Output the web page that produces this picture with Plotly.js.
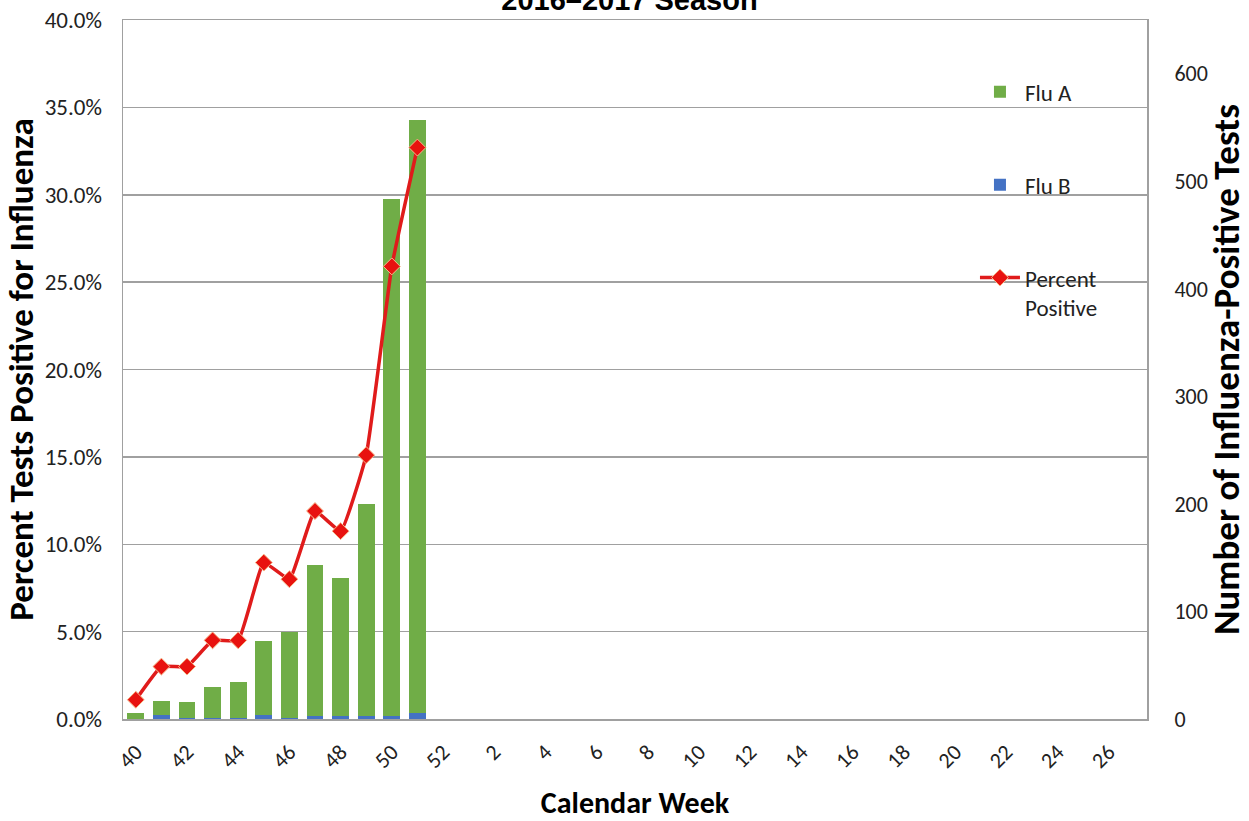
<!DOCTYPE html>
<html>
<head>
<meta charset="utf-8">
<script src="https://cdn.plot.ly/plotly-3.0.1.min.js"></script>
<style>html,body{margin:0;padding:0;background:#fff;}#chart{width:1249px;height:821px;}</style>
</head>
<body>
<div id="chart"></div>
<script>
// Calendar weeks shown on the x axis (2016–2017 season)
var weeks = ["40","41","42","43","44","45","46","47","48","49","50","51","52",
  "1","2","3","4","5","6","7","8","9","10","11","12","13","14","15","16","17","18","19","20",
  "21","22","23","24","25","26","27"];
var tickWeeks = ["40","42","44","46","48","50","52","2","4","6","8","10","12","14","16","18","20","22","24","26"];

// Reported weeks with data
var dataWeeks = ["40","41","42","43","44","45","46","47","48","49","50","51"];
var fluA = [6, 13, 15, 29, 33, 69, 80, 140, 128, 197, 481, 551];
var fluB = [0, 4, 1, 1, 1, 4, 1, 3, 3, 3, 3, 6];
var percentPositive = [1.1, 3.0, 3.0, 4.5, 4.5, 8.95, 8.0, 11.9, 10.75, 15.1, 25.9, 32.7];

var leftTicks = [0, 5, 10, 15, 20, 25, 30, 35, 40];
var leftTickText = ["0.0%","5.0%","10.0%","15.0%","20.0%","25.0%","30.0%","35.0%","40.0%"];
var rightTicks = [0, 100, 200, 300, 400, 500, 600];

// pad percent series over the full week list so all categories exist
var pctFull = weeks.map(function (w) {
  var i = dataWeeks.indexOf(w);
  return i >= 0 ? percentPositive[i] : null;
});

var narrow = "Calibri, Carlito, 'Liberation Sans Narrow', 'Open Sans', sans-serif";

var traces = [
  {
    type: "bar", name: "Flu B", x: dataWeeks, y: fluB, yaxis: "y",
    marker: {color: "#4472C4"}, legendgroup: "b", legendrank: 2
  },
  {
    type: "bar", name: "Flu A", x: dataWeeks, y: fluA, yaxis: "y",
    marker: {color: "#70AD47"}, legendgroup: "a", legendrank: 1
  },
  {
    type: "scatter", mode: "lines+markers", name: "Percent<br>Positive",
    x: weeks, y: pctFull, yaxis: "y2",
    line: {color: "#E01B1B", width: 3.5, shape: "spline", smoothing: 0.35},
    marker: {symbol: "diamond", size: 13, color: "#E8120F", line: {color: "#F5B88A", width: 1}},
    connectgaps: false, legendgroup: "p", legendrank: 3
  }
];

var layout = {
  width: 1249, height: 821,
  margin: {l: 123, r: 102, t: 20, b: 102},
  paper_bgcolor: "#fff", plot_bgcolor: "#fff",
  barmode: "stack", bargap: 0.35,
  showlegend: true,
  title: {
    text: "<b>2016–2017 Season</b>",
    font: {family: "'Liberation Sans', Arial, sans-serif", size: 29, color: "#000"},
    xref: "container", x: 0.504, yref: "container", y: 1.0, yanchor: "middle"
  },
  legend: {
    x: 0.832, y: 0.928, xanchor: "left", yanchor: "top",
    bgcolor: "rgba(0,0,0,0)", traceorder: "grouped", tracegroupgap: 60,
    valign: "top", itemwidth: 40,
    font: {family: narrow, size: 23, color: "#222"}
  },
  xaxis: {
    type: "category", categoryorder: "array", categoryarray: weeks,
    range: [-0.5, weeks.length - 0.5],
    tickmode: "array", tickvals: tickWeeks, ticktext: tickWeeks,
    tickangle: -45, ticks: "", ticklabelstandoff: 10,
    tickfont: {family: narrow, size: 22, color: "#222"},
    showline: true, linecolor: "#A0A0A0", linewidth: 1.5, mirror: true,
    showgrid: false,
    title: {text: "<b>Calendar Week</b>", font: {family: narrow, size: 30, color: "#000"}, standoff: 24}
  },
  // counts axis (right)
  yaxis: {
    side: "right", range: [0, 650],
    tickmode: "array", tickvals: rightTicks,
    tickfont: {family: narrow, size: 22, color: "#222"},
    showgrid: false, zeroline: false, showline: false,
    ticks: "outside", ticklen: 22, tickcolor: "rgba(0,0,0,0)",
    title: {text: "<b>Number of Influenza-Positive Tests</b>", font: {family: narrow, size: 37, color: "#000"}, standoff: 2}
  },
  // percent axis (left)
  yaxis2: {
    overlaying: "y", side: "left",
    range: [0, 40], tickmode: "array", tickvals: leftTicks, ticktext: leftTickText,
    tickfont: {family: narrow, size: 23, color: "#222"},
    showgrid: true, gridcolor: "#A0A0A0", gridwidth: 1.5,
    showline: true, linecolor: "#A0A0A0", linewidth: 1.5, mirror: true,
    zeroline: false, ticks: "", ticklabelstandoff: 15,
    title: {text: "<b>Percent Tests Positive for Influenza</b>", font: {family: narrow, size: 35, color: "#000"}, standoff: 8}
  }
};

Plotly.newPlot("chart", traces, layout, {displayModeBar: false, staticPlot: true});
</script>
</body>
</html>
